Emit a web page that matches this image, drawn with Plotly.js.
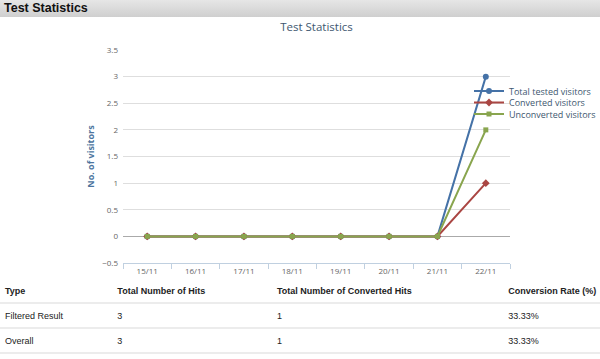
<!DOCTYPE html>
<html><head><meta charset="utf-8">
<script src="https://cdn.plot.ly/plotly-3.0.1.min.js"></script>
<style>
html,body{margin:0;padding:0;width:600px;height:359px;overflow:hidden;background:#fff;font-family:"Liberation Sans",Arial,sans-serif;}
#hdr{position:absolute;left:0;top:0;width:600px;height:17px;background:linear-gradient(#e6e6e6,#cfcfcf);font-weight:bold;font-size:12.5px;color:#111;line-height:17px;padding-left:4px;box-sizing:border-box;z-index:2;}
#chart{position:absolute;left:0;top:0;width:600px;height:280px;}
#tbl{position:absolute;left:0;top:280px;width:600px;border-collapse:collapse;font-size:9px;color:#222;z-index:2;}
#tbl td,#tbl th{text-align:left;padding:0 0 0 5px;height:23px;border-bottom:2px solid #ececec;font-weight:normal;white-space:nowrap;}
#tbl th{font-weight:bold;height:22px;}
</style></head>
<body>
<div id="chart"></div>
<div id="hdr">Test Statistics</div>
<table id="tbl"></table>
<script>
const categories = ["15/11","16/11","17/11","18/11","19/11","20/11","21/11","22/11"];
const totalVisitors = [0,0,0,0,0,0,0,3];
const convertedVisitors = [0,0,0,0,0,0,0,1];
const unconvertedVisitors = [0,0,0,0,0,0,0,2];
const seriesNames = ["Total tested visitors","Converted visitors","Unconverted visitors"];

const tableHeader = ["Type","Total Number of Hits","Total Number of Converted Hits","Conversion Rate (%)"];
const rowTypes = ["Filtered Result","Overall"];
const rowHits = ["3","3"];
const rowConverted = ["1","1"];
const rowRates = ["33.33%","33.33%"];

const colors = ["#4572A7","#AA4643","#89A54E"];
const symbols = ["circle","diamond","square"];
const msizes = [6,6,5];
const vals = [totalVisitors, convertedVisitors, unconvertedVisitors];
const legendIds = ["legend","legend2","legend3"];

const traces = vals.map((v,i)=>({
  type:"scatter", mode:"lines+markers", x:categories, y:v, name:seriesNames[i], legend:legendIds[i],
  line:{color:colors[i], width:2}, marker:{color:colors[i], symbol:symbols[i], size:msizes[i]}
}));

const L=123, R=510, T=50, B=263, W=600, H=280;
const legendFont = {family:"Open Sans, sans-serif", size:9, color:"#3e576f"};
function legendAt(py){
  return {x:(469-L)/(R-L), xref:"paper", xanchor:"left", y:1-(py-T)/(B-T), yanchor:"middle",
    font:legendFont, itemwidth:30, bgcolor:"rgba(0,0,0,0)", borderwidth:0};
}

const layout = {
  width:W, height:H,
  margin:{l:L, r:W-R, t:T, b:H-B, autoexpand:false},
  paper_bgcolor:"#fff", plot_bgcolor:"#fff",
  title:{text:"Test Statistics", x:0.5, xref:"paper", y:1-27/H, yref:"container", yanchor:"middle",
    font:{family:"Open Sans, sans-serif", size:11.5, color:"#3e576f"}},
  showlegend:true,
  legend:legendAt(91), legend2:legendAt(102.5), legend3:legendAt(114),
  xaxis:{type:"category", tickson:"boundaries", ticks:"outside", ticklen:5, tickcolor:"#c0d0e0",
    showline:true, linecolor:"#c0d0e0", linewidth:1, showgrid:false, zeroline:false,
    tickfont:{family:"Open Sans, sans-serif", size:8, color:"#666"}, range:[-0.5,7.5], fixedrange:true},
  yaxis:{range:[-0.5,3.5], dtick:0.5, tick0:0, showgrid:true, gridcolor:"#dedede", gridwidth:1,
    zeroline:true, zerolinecolor:"#aaaaaa", zerolinewidth:1, showline:false, ticks:"",
    tickfont:{family:"Open Sans, sans-serif", size:8, color:"#666"}, ticklabelstandoff:4,
    title:{text:"No. of visitors", standoff:6, font:{family:"Open Sans, sans-serif", size:9, color:"#4d759e", weight:"bold"}}}
};
Plotly.newPlot("chart", traces, layout, {displayModeBar:false, staticPlot:true});

// table
const tbl = document.getElementById("tbl");
const cols = [rowTypes, rowHits, rowConverted, rowRates];
const widths = ["112px","161px","235px","92px"];
let html = "<tr>" + tableHeader.map((h,i)=>`<th style="width:${widths[i]}">${h}</th>`).join("") + "</tr>";
for (let r=0;r<rowTypes.length;r++){
  html += "<tr>" + cols.map(c=>`<td>${c[r]}</td>`).join("") + "</tr>";
}
tbl.innerHTML = html;
</script>
</body></html>
